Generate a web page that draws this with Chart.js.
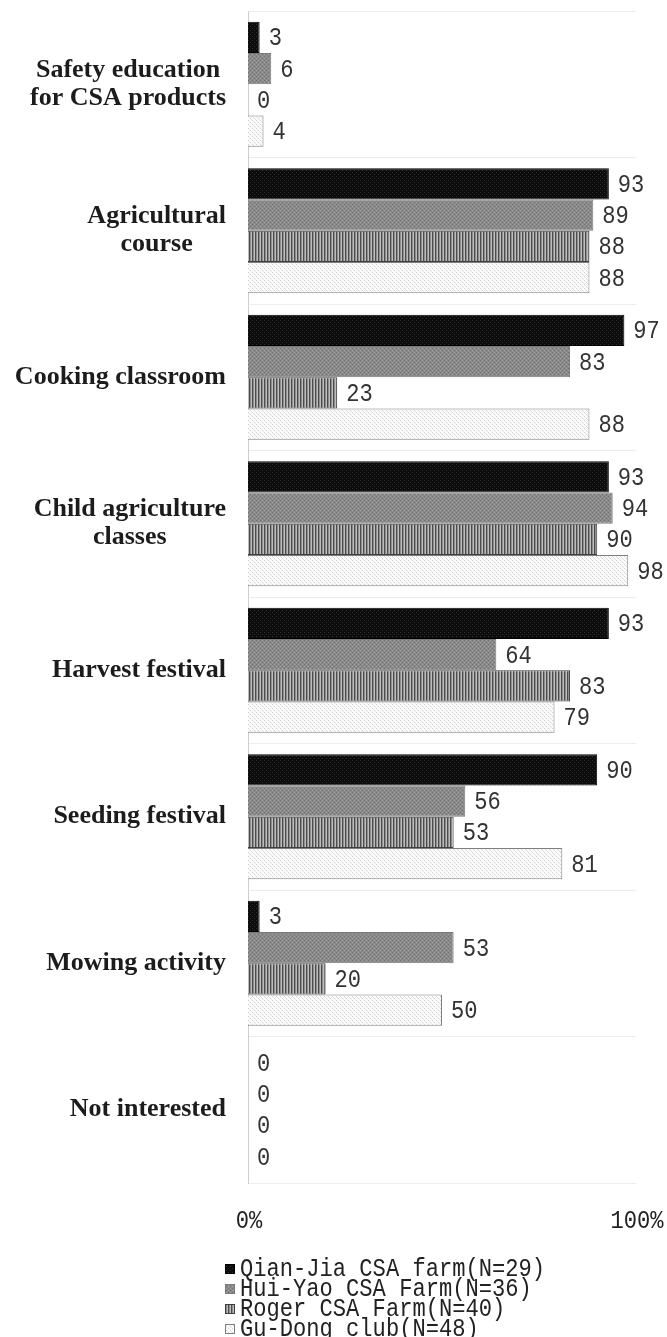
<!DOCTYPE html>
<html>
<head>
<meta charset="utf-8">
<script src="https://cdn.jsdelivr.net/npm/chart.js@4/dist/chart.umd.min.js"></script>
<style>
  html, body { margin: 0; padding: 0; background: #fff; }
  #wrap { width: 667px; height: 1337px; }
</style>
</head>
<body>
<div id="wrap"><canvas id="c" width="667" height="1337"></canvas></div>
<script>
// Activity categories (multi-line labels are arrays of lines)
const categories = [
  ['Safety education', 'for CSA products'],
  ['Agricultural', 'course'],
  'Cooking classroom',
  ['Child agriculture', 'classes'],
  'Harvest festival',
  'Seeding festival',
  'Mowing activity',
  'Not interested'
];

// Series names as shown in the legend
const seriesNames = [
  'Qian-Jia CSA farm(N=29)',
  'Hui-Yao CSA Farm(N=36)',
  'Roger CSA Farm(N=40)',
  'Gu-Dong club(N=48)'
];

// Percentage of respondents per farm
const qianJia = [3, 93, 97, 93, 93, 90, 3, 0];
const huiYao  = [6, 89, 83, 94, 64, 56, 53, 0];
const roger   = [0, 88, 23, 90, 83, 53, 20, 0];
const guDong  = [4, 88, 88, 98, 79, 81, 50, 0];

// Value axis range and tick values
const axisMin = 0;
const axisMax = 100;
const axisStep = 100;

// ---- fill patterns ----
function makePattern(w, h, paint) {
  const c = document.createElement('canvas');
  c.width = w; c.height = h;
  const g = c.getContext('2d');
  paint(g);
  return g.createPattern(c, 'repeat');
}
const ctx0 = document.getElementById('c').getContext('2d');

const blackFill = makePattern(4, 4, g => {
  g.fillStyle = '#0c0c0c'; g.fillRect(0, 0, 4, 4);
  g.fillStyle = '#303030'; g.fillRect(0, 0, 1, 1); g.fillRect(2, 2, 1, 1);
});
const grayFill = makePattern(4, 4, g => {
  g.fillStyle = '#8a8a8a'; g.fillRect(0, 0, 4, 4);
  g.fillStyle = '#6f6f6f'; g.fillRect(0, 0, 1, 1); g.fillRect(2, 2, 1, 1);
  g.fillStyle = '#a2a2a2'; g.fillRect(2, 0, 1, 1); g.fillRect(0, 2, 1, 1);
});
const stripeFill = makePattern(3, 1, g => {
  g.fillStyle = '#4c4c4c'; g.fillRect(0, 0, 1, 1);
  g.fillStyle = '#8e8e8e'; g.fillRect(1, 0, 1, 1);
  g.fillStyle = '#bdbdbd'; g.fillRect(2, 0, 1, 1);
});
const lightFill = makePattern(4, 4, g => {
  g.fillStyle = '#fbfbfb'; g.fillRect(0, 0, 4, 4);
  g.fillStyle = '#d2d2d2'; g.fillRect(0, 0, 1, 1); g.fillRect(2, 2, 1, 1);
  g.fillStyle = '#e6e6e6'; g.fillRect(1, 1, 1, 1); g.fillRect(3, 3, 1, 1);
});

const fills   = [blackFill, grayFill, stripeFill, lightFill];
const borders = ['#000000', '#7a7a7a', '#3e3e3e', '#808080'];
const series  = [qianJia, huiYao, roger, guDong];

// Narrow monospace text, drawn squeezed horizontally
const monoFont = '26px "Liberation Mono"';
const monoScaleX = 0.85;
function monoText(ctx, text, x, y, align) {
  ctx.save();
  ctx.font = monoFont;
  ctx.textBaseline = 'middle';
  const w = ctx.measureText(text).width * monoScaleX;
  let left = x;
  if (align === 'center') left = x - w / 2;
  else if (align === 'right') left = x - w;
  ctx.translate(left, y);
  ctx.scale(monoScaleX, 1);
  ctx.textAlign = 'left';
  ctx.fillText(text, 0, 0);
  ctx.restore();
}

// Category labels: block right-aligned to the axis, lines centred within the block
const categoryLabels = {
  id: 'categoryLabels',
  afterDraw(chart) {
    const ctx = chart.ctx;
    const y = chart.scales.y;
    const rightEdge = chart.chartArea.left - 22;
    ctx.save();
    ctx.font = 'bold 26px "Liberation Serif"';
    ctx.fillStyle = '#1c1c1c';
    ctx.textAlign = 'center';
    ctx.textBaseline = 'middle';
    categories.forEach((lab, i) => {
      const lines = Array.isArray(lab) ? lab : [lab];
      const maxW = Math.max(...lines.map(l => ctx.measureText(l).width));
      const cx = rightEdge - maxW / 2;
      const cy = y.getPixelForValue(i);
      lines.forEach((l, k) => {
        ctx.fillText(l, cx, cy + (k - (lines.length - 1) / 2) * 28);
      });
    });
    ctx.restore();
  }
};

// Value labels at the end of each bar
const valueLabels = {
  id: 'valueLabels',
  afterDatasetsDraw(chart) {
    const ctx = chart.ctx;
    ctx.save();
    ctx.fillStyle = '#333333';
    chart.data.datasets.forEach((ds, di) => {
      chart.getDatasetMeta(di).data.forEach((el, i) => {
        monoText(ctx, String(ds.data[i]), el.x + 9, el.y + 1, 'left');
      });
    });
    ctx.restore();
  }
};

// Percent ticks on the value axis
const axisTicks = {
  id: 'axisTicks',
  afterDraw(chart) {
    const ctx = chart.ctx;
    const x = chart.scales.x;
    ctx.save();
    ctx.fillStyle = '#222222';
    x.ticks.forEach(t => {
      monoText(ctx, t.value + '%', x.getPixelForValue(t.value) + 1, chart.chartArea.bottom + 38, 'center');
    });
    ctx.restore();
  }
};

// Stacked legend under the axis
const stackedLegend = {
  id: 'stackedLegend',
  afterDraw(chart) {
    const ctx = chart.ctx;
    const left = 225;
    const top = chart.chartArea.bottom + 86;
    ctx.save();
    chart.data.datasets.forEach((ds, i) => {
      const cy = top + i * 20;
      ctx.fillStyle = ds.backgroundColor;
      ctx.fillRect(left, cy - 5, 10, 10);
      ctx.strokeStyle = ds.borderColor;
      ctx.lineWidth = 1;
      ctx.strokeRect(left + 0.5, cy - 4.5, 9, 9);
      ctx.fillStyle = '#222222';
      monoText(ctx, ds.label, left + 15, cy, 'left');
    });
    ctx.restore();
  }
};

new Chart(ctx0, {
  type: 'bar',
  data: {
    labels: categories,
    datasets: series.map((vals, i) => ({
      label: seriesNames[i],
      data: vals,
      backgroundColor: fills[i],
      borderColor: borders[i],
      borderWidth: 1,
      categoryPercentage: 0.853,
      barPercentage: 1.0
    }))
  },
  options: {
    indexAxis: 'y',
    responsive: false,
    animation: false,
    devicePixelRatio: 1,
    layout: { padding: { top: 11, right: 31, left: 0, bottom: 0 } },
    scales: {
      x: {
        min: axisMin,
        max: axisMax,
        ticks: { display: false, stepSize: axisStep },
        grid: { display: false },
        border: { display: false },
        afterFit(s) { s.height = 154; }
      },
      y: {
        ticks: { display: false },
        grid: { offset: true, color: '#ededed', drawTicks: false },
        border: { display: true, color: '#cfcfcf' },
        afterFit(s) { s.width = 248; }
      }
    },
    plugins: {
      legend: { display: false },
      tooltip: { enabled: false }
    }
  },
  plugins: [categoryLabels, valueLabels, axisTicks, stackedLegend]
});
</script>
</body>
</html>
